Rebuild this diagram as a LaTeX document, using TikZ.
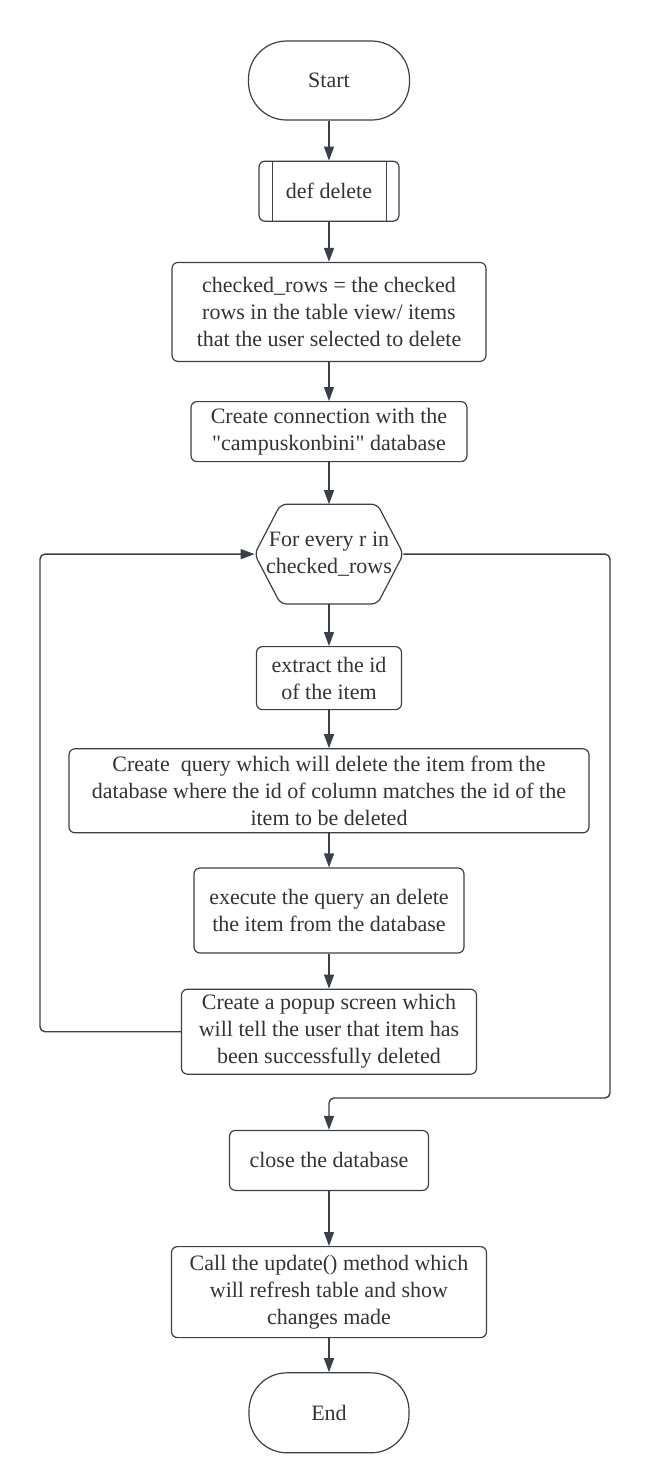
\documentclass[tikz,border=0pt]{standalone}
\usepackage{fontspec}
\setmainfont{Liberation Serif}
\usetikzlibrary{arrows.meta,positioning}
\definecolor{linegray}{RGB}{58,64,74}
\definecolor{textgray}{RGB}{51,51,51}

\begin{document}
\begin{tikzpicture}[
    font=\fontsize{11}{13.5}\selectfont,
    box/.style={draw=linegray, line width=0.6pt, rounded corners=3pt, align=center, text=textgray, inner sep=2pt},
    term/.style={box, rounded corners=19pt, minimum width=80.5pt, minimum height=39.5pt},
    hexbox/.style={align=center, text=textgray, inner sep=0pt, minimum width=74pt, minimum height=49.5pt},
    arr/.style={-{Triangle[length=7pt,width=5pt]}, draw=linegray, line width=0.7pt, rounded corners=2.5pt}
]
\useasboundingbox (0,0) rectangle (325pt,-740pt);

\node[term] (start) at (164.5pt,-40.25pt) {Start};
\node[box, below=20pt of start, minimum width=70pt, minimum height=30pt] (def) {def delete};
\node[box, below=20pt of def, minimum width=157pt, minimum height=49.5pt] (rows) {checked\_rows = the checked\\rows in the table view/ items\\that the user selected to delete};
\node[box, below=19.5pt of rows, minimum width=138pt, minimum height=30pt] (conn) {Create connection with the\\\textquotedbl campuskonbini\textquotedbl{} database};
\node[hexbox, below=21pt of conn] (loop) {For every r in\\checked\_rows};
\node[box, below=21pt of loop, minimum width=72.5pt, minimum height=31.5pt] (extract) {extract the id\\of the item};
\node[box, below=19pt of extract, minimum width=260pt, minimum height=42pt] (query) {Create\ \ query which will delete the item from the\\database where the id of column matches the id of the\\item to be deleted};
\node[box, below=17pt of query, minimum width=135pt, minimum height=42.5pt] (exec) {execute the query an delete\\the item from the database};
\node[box, below=17.5pt of exec, minimum width=147.5pt, minimum height=42.5pt] (popup) {Create a popup screen which\\will tell the user that item has\\been successfully deleted};
\node[box, below=27.5pt of popup, minimum width=99.5pt, minimum height=30pt] (close) {close the database};
\node[box, below=27.5pt of close, minimum width=157.5pt, minimum height=45.5pt] (update) {Call the update() method which\\will refresh table and show\\changes made};
\node[term, below=17pt of update, minimum width=80pt, minimum height=40pt] (end) {End};

\draw[linegray, line width=0.6pt] ([xshift=7pt]def.north west) -- ([xshift=7pt]def.south west)
    ([xshift=-6.5pt]def.north east) -- ([xshift=-6.5pt]def.south east);
\draw[linegray, line width=0.6pt, rounded corners=3pt] ([xshift=13pt]loop.north west) -- ([xshift=-13pt]loop.north east)
    -- (loop.east) -- ([xshift=-13pt]loop.south east) -- ([xshift=13pt]loop.south west) -- (loop.west) -- cycle;

\coordinate (back) at (20pt,0);
\coordinate (merge) at (305pt,-549pt);

\draw[arr] (start) -- (def);
\draw[arr] (def) -- (rows);
\draw[arr] (rows) -- (conn);
\draw[arr] (conn) -- (loop);
\draw[arr] (loop) -- (extract);
\draw[arr] (extract) -- (query);
\draw[arr] (query) -- (exec);
\draw[arr] (exec) -- (popup);
\draw[arr] (popup.west) -- (popup.west -| back) |- (loop.west);
\draw[arr] (loop.east) -| (merge) -| (close.north);
\draw[arr] (close) -- (update);
\draw[arr] (update) -- (end);
\end{tikzpicture}
\end{document}
